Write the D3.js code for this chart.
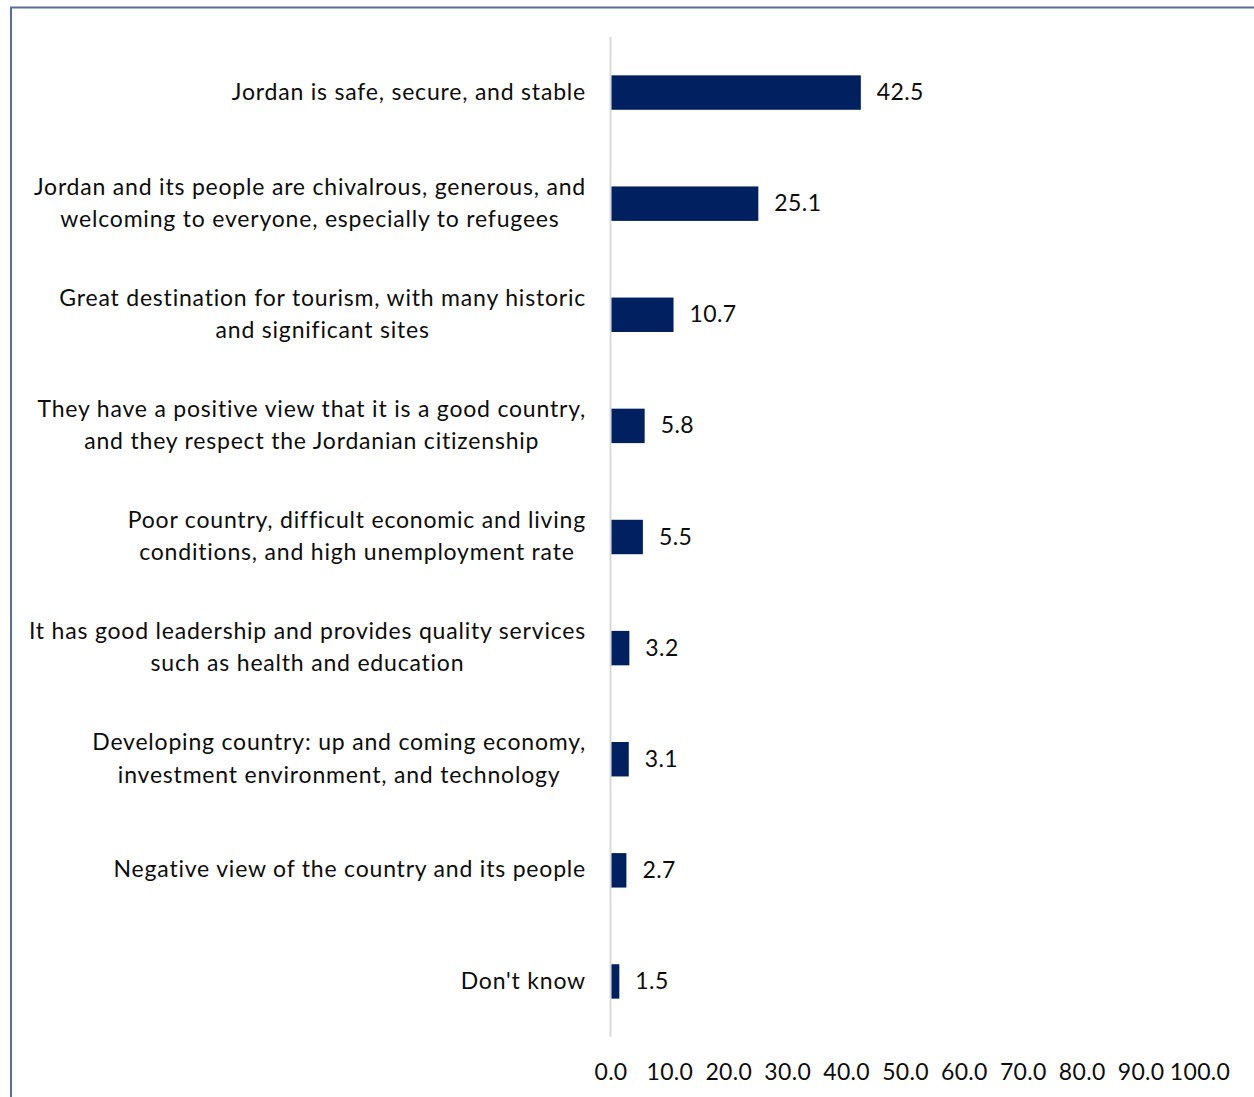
<!DOCTYPE html>
<html>
<head>
<meta charset="utf-8">
<script src="https://cdn.jsdelivr.net/npm/d3@7"></script>
<style>
  html, body { margin: 0; padding: 0; background: #fff; }
  svg { display: block; }
  text { font-family: Lato, "Open Sans", sans-serif; fill: #0d0d0d; }
</style>
</head>
<body>
<svg id="chart" width="1254" height="1097"></svg>
<script>
// Reasons / perceptions, top to bottom (each entry is a list of label lines)
const categories = [
  ["Jordan is safe, secure, and stable"],
  ["Jordan and its people are chivalrous, generous, and", "welcoming to everyone, especially to refugees"],
  ["Great destination for tourism, with many historic", "and significant sites"],
  ["They have a positive view that it is a good country,", "and they respect the Jordanian citizenship"],
  ["Poor country, difficult economic and living", "conditions, and high unemployment rate"],
  ["It has good leadership and provides quality services", "such as health and education"],
  ["Developing country: up and coming economy,", "investment environment, and technology"],
  ["Negative view of the country and its people"],
  ["Don't know"]
];
const values = [42.5, 25.1, 10.7, 5.8, 5.5, 3.2, 3.1, 2.7, 1.5];
const tickValues = [0, 10, 20, 30, 40, 50, 60, 70, 80, 90, 100];

const svg = d3.select("#chart");
const W = 1254, H = 1097;
const fontSize = 23;

// Frame lines on the left and top
svg.append("path")
  .attr("d", `M11,${H} L11,7.5 L${W},7.5`)
  .attr("fill", "none")
  .attr("stroke", "#5a6d9e")
  .attr("stroke-width", 2);

const x = d3.scaleLinear().domain([0, 100]).range([610.5, 1199.5]);
const keys = categories.map((c, i) => i);
const y = d3.scaleBand().domain(keys).range([37, 1037]).paddingInner(0.69).paddingOuter(0.345);

// Category axis line
svg.append("line")
  .attr("x1", x(0)).attr("x2", x(0))
  .attr("y1", 37).attr("y2", 1037)
  .attr("stroke", "#d9d9d9").attr("stroke-width", 2);

// Bars
svg.append("g").selectAll("rect")
  .data(values)
  .join("rect")
  .attr("x", x(0) + 1)
  .attr("y", (d, i) => y(i))
  .attr("width", d => x(d) - x(0) - 1)
  .attr("height", y.bandwidth())
  .attr("fill", "#002060");

// Value labels
svg.append("g").selectAll("text")
  .data(values)
  .join("text")
  .attr("x", d => x(d) + 16)
  .attr("y", (d, i) => y(i) + y.bandwidth() / 2)
  .attr("dy", "0.33em")
  .attr("font-size", fontSize)
  .attr("letter-spacing", 0.4)
  .text(d => d.toFixed(1));

// Category labels: lines centred on each other, block right-aligned next to the axis
const labelRight = 586;
const lineH = 32.5;
const lg = svg.append("g");
categories.forEach((lines, i) => {
  const g = lg.append("g");
  const ts = lines.map(l => g.append("text")
    .attr("font-size", fontSize)
    .attr("letter-spacing", 0.8)
    .text(l));
  const maxW = d3.max(ts, t => t.node().getComputedTextLength());
  const cx = labelRight - maxW / 2;
  const cy = y(i) + y.bandwidth() / 2;
  ts.forEach((t, j) => {
    t.attr("x", cx)
     .attr("text-anchor", "middle")
     .attr("y", cy + (j - (lines.length - 1) / 2) * lineH)
     .attr("dy", "0.31em");
  });
});

// Value axis (labels only)
const xAxis = d3.axisBottom(x)
  .tickValues(tickValues)
  .tickFormat(d => d.toFixed(1))
  .tickSize(0)
  .tickPadding(0);
const ax = svg.append("g").attr("transform", "translate(0,1063)").call(xAxis);
ax.select(".domain").remove();
ax.selectAll("text")
  .attr("font-size", fontSize)
  .attr("font-family", "Lato, 'Open Sans', sans-serif")
  .attr("letter-spacing", 0.3)
  .attr("fill", "#0d0d0d")
  .attr("dy", "0.74em");
</script>
</body>
</html>
